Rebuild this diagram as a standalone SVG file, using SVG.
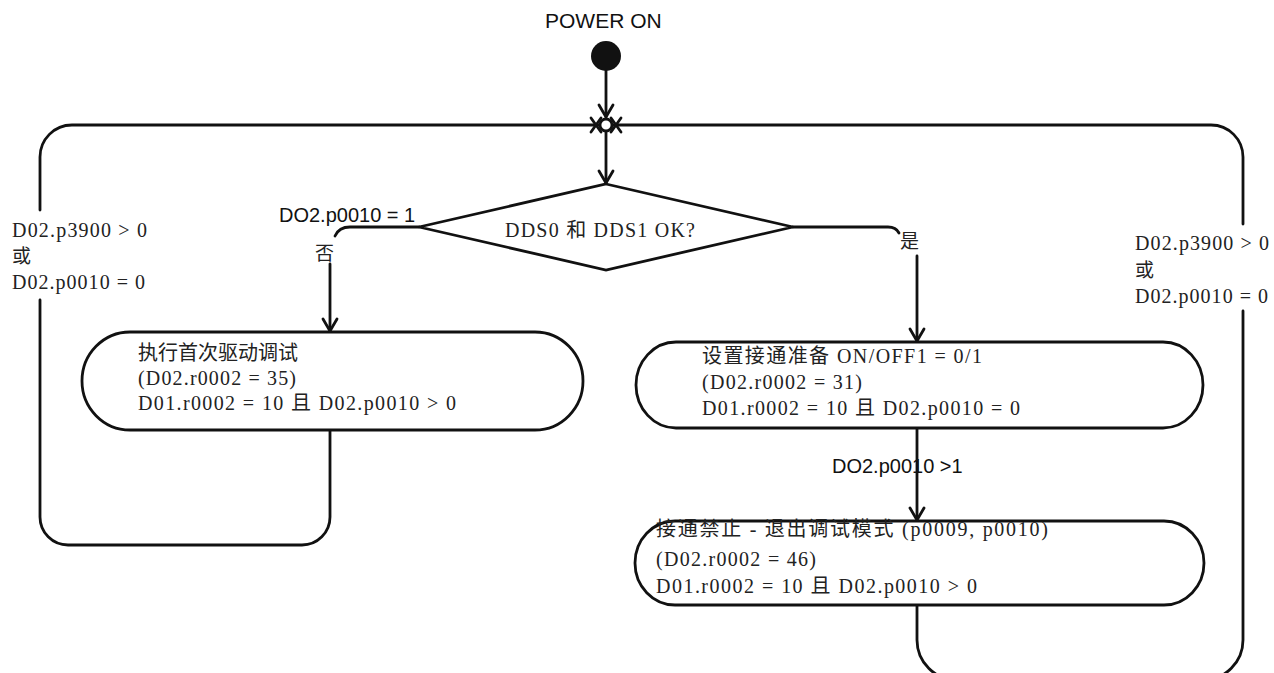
<svg xmlns="http://www.w3.org/2000/svg" width="1274" height="673" viewBox="0 0 1274 673">
  <style>
    .ln { fill: none; stroke: #111; stroke-width: 2.8; stroke-linecap: round; stroke-linejoin: round; }
    .shape { fill: #fff; stroke: #111; stroke-width: 2.8; }
    .sans { font-family: "Liberation Sans", Arial, sans-serif; font-size: 20px; fill: #111; }
    .song { font-family: "Liberation Serif", "Noto Sans CJK SC", serif; font-size: 20px; fill: #222; }
    .cjk { font-family: "Noto Sans CJK SC", sans-serif; font-size: 19px; fill: #222; }
  </style>
  <defs>
    <marker id="arr" viewBox="-15 -10 18 20" markerWidth="18" markerHeight="20" refX="0" refY="0" orient="auto" markerUnits="userSpaceOnUse">
      <path d="M-12,-7 L0,0 L-12,7" fill="none" stroke="#111" stroke-width="2.8" stroke-linecap="round" stroke-linejoin="round"/>
    </marker>
  </defs>
  <rect width="1274" height="673" fill="#fff"/>

  <g id="connectors">
    <path class="ln" d="M606,71 V117" marker-end="url(#arr)"/>
    <path class="ln" d="M606,131 V183" marker-end="url(#arr)"/>
    <path class="ln" d="M419,227 H350 Q339,227 335,236"/>
    <path class="ln" d="M330,264 V331" marker-end="url(#arr)"/>
    <path class="ln" d="M793,227 H888 Q896,227 899,233"/>
    <path class="ln" d="M917,256 V341" marker-end="url(#arr)"/>
    <path class="ln" d="M917,428 V520" marker-end="url(#arr)"/>
    <path class="ln" d="M330,430 V517 A28,28 0 0 1 302,545 H68 A28,28 0 0 1 40,517 V300"/>
    <path class="ln" d="M40,210 V157 A32,32 0 0 1 72,125 H600"/>
    <path class="ln" d="M917,605 V640 A40,40 0 0 0 957,680 H1203 A40,40 0 0 0 1243,640 V311"/>
    <path class="ln" d="M1243,224 V157 A32,32 0 0 0 1211,125 H612"/>
    <path class="ln" d="M591,118 L601,132 M591,132 L601,118"/>
    <path class="ln" d="M611,118 L621,132 M611,132 L621,118"/>
  </g>

  <g id="start">
    <text class="sans" x="545" y="28" style="font-size:21px">POWER ON</text>
    <circle cx="606" cy="56" r="15" fill="#111"/>
  </g>

  <g id="junction">
    <circle class="shape" cx="606" cy="125" r="6"/>
  </g>

  <g id="decision">
    <polygon class="shape" points="606,184 793,227 606,270 419,227"/>
    <text class="song" x="505" y="237" textLength="190" lengthAdjust="spacing">DDS0 和 DDS1 OK?</text>
  </g>

  <g id="box-commission">
    <rect class="shape" x="82" y="332" width="501" height="98" rx="48" ry="49"/>
    <text class="song" x="138" y="360">执行首次驱动调试</text>
    <text class="song" x="138" y="385" textLength="158" lengthAdjust="spacing">(D02.r0002 = 35)</text>
    <text class="song" x="138" y="410" textLength="318" lengthAdjust="spacing">D01.r0002 = 10 且 D02.p0010 &gt; 0</text>
  </g>

  <g id="box-ready">
    <rect class="shape" x="636" y="342" width="567" height="86" rx="40" ry="43"/>
    <text class="song" x="702" y="363" textLength="280" lengthAdjust="spacing">设置接通准备  ON/OFF1 = 0/1</text>
    <text class="song" x="702" y="389" textLength="160" lengthAdjust="spacing">(D02.r0002 = 31)</text>
    <text class="song" x="702" y="415" textLength="318" lengthAdjust="spacing">D01.r0002 = 10 且 D02.p0010 = 0</text>
  </g>

  <g id="box-exit">
    <rect class="shape" x="635" y="521" width="569" height="84" rx="40" ry="42"/>
    <text class="song" x="656" y="536" textLength="392" lengthAdjust="spacing">接通禁止 - 退出调试模式 (p0009, p0010)</text>
    <text class="song" x="656" y="566" textLength="160" lengthAdjust="spacing">(D02.r0002 = 46)</text>
    <text class="song" x="656" y="593" textLength="321" lengthAdjust="spacing">D01.r0002 = 10 且 D02.p0010 &gt; 0</text>
  </g>

  <g id="labels">
    <text class="sans" x="279" y="222">DO2.p0010 = 1</text>
    <text class="cjk" x="315" y="260">否</text>
    <text class="cjk" x="900" y="248">是</text>
    <text class="sans" x="832" y="473">DO2.p0010 &gt;1</text>
    <text class="song" x="12" y="237" textLength="135" lengthAdjust="spacing">D02.p3900 &gt; 0</text>
    <text class="cjk" x="12" y="263">或</text>
    <text class="song" x="12" y="289" textLength="133" lengthAdjust="spacing">D02.p0010 = 0</text>
    <text class="song" x="1135" y="250" textLength="134" lengthAdjust="spacing">D02.p3900 &gt; 0</text>
    <text class="cjk" x="1135" y="277">或</text>
    <text class="song" x="1135" y="303" textLength="133" lengthAdjust="spacing">D02.p0010 = 0</text>
  </g>
</svg>
